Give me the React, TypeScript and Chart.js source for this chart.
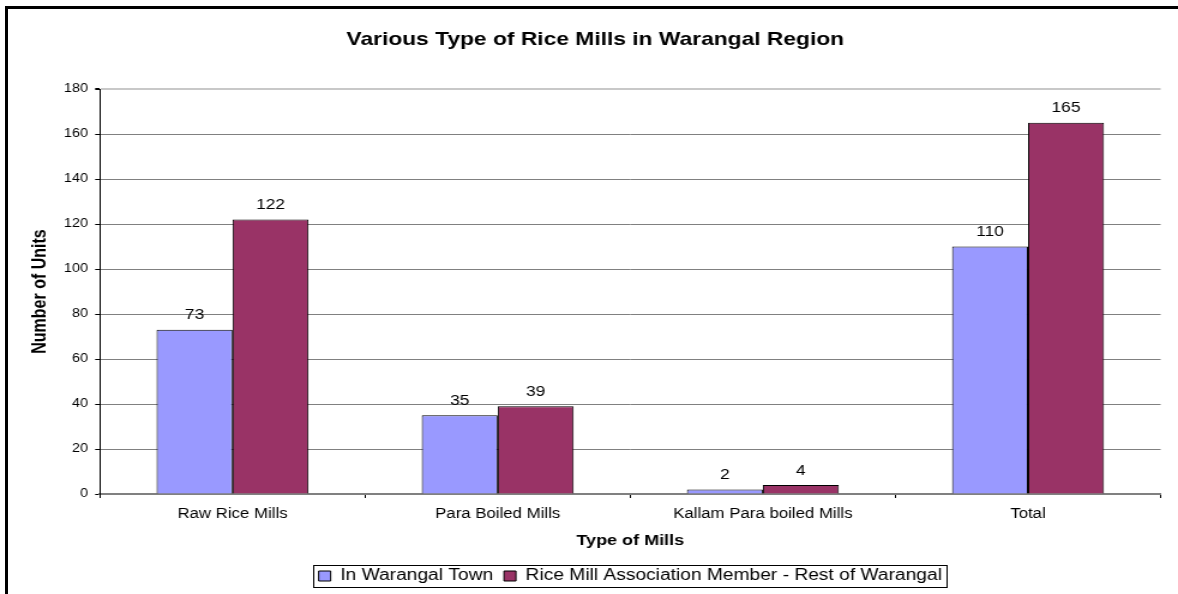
import React, { useEffect, useRef } from 'react';
import { Chart, registerables } from 'chart.js';

Chart.register(...registerables);

// ---- data ----
const categories = ['Raw Rice Mills', 'Para Boiled Mills', 'Kallam Para boiled Mills', 'Total'];
const seriesLabels = ['In Warangal Town', 'Rice Mill Association Member - Rest of Warangal'];
const inWarangalTown = [73, 35, 2, 110];
const restOfWarangal = [122, 39, 4, 165];
const yAxisMin = 0;
const yAxisMax = 180;
const yAxisStep = 20;
const chartTitle = 'Various Type of Rice Mills in Warangal Region';
const xAxisTitle = 'Type of Mills';
const yAxisTitle = 'Number of Units';

// ---- layout / style ----
const PAGE_W = 1178;
const PAGE_H = 594;
const CANVAS_W = 982; // drawn narrower, then stretched horizontally like the reference
const STRETCH = PAGE_W / CANVAS_W;
const FONT = "'Liberation Sans', Arial, Helvetica, sans-serif";
const BLUE = '#9999FF';
const MAROON = '#993366';

const dataLabelPlugin = {
  id: 'dataLabels',
  afterDatasetsDraw(chart: any) {
    const ctx = chart.ctx;
    ctx.save();
    ctx.font = `14.5px ${FONT}`;
    ctx.fillStyle = '#000';
    ctx.textAlign = 'center';
    ctx.textBaseline = 'middle';
    chart.data.datasets.forEach((ds: any, i: number) => {
      const meta = chart.getDatasetMeta(i);
      meta.data.forEach((bar: any, j: number) => {
        ctx.fillText(String(ds.data[j]), bar.x, bar.y - 14.5);
      });
    });
    ctx.restore();
  },
};

const legendPlacePlugin = {
  id: 'legendPlace',
  afterLayout(chart: any) {
    const lg = chart.legend;
    const area = chart.chartArea;
    if (!lg || !area) return;
    const d = (area.left + area.right) / 2 - (lg.left + lg.right) / 2;
    lg.left += d;
    lg.right += d;
  },
  afterDraw(chart: any) {
    const lg = chart.legend;
    const hb = lg && lg.legendHitBoxes;
    if (!hb || !hb.length) return;
    const ctx = chart.ctx;
    const left = Math.min(...hb.map((h: any) => h.left)) - 4.75;
    const right = Math.max(...hb.map((h: any) => h.left + h.width)) + 3.5;
    const cy = hb[0].top + hb[0].height / 2;
    const top = Math.round(cy - 11.2) + 0.5;
    const bottom = Math.round(cy + 11.2) + 0.5;
    ctx.save();
    ctx.strokeStyle = '#000';
    ctx.lineWidth = 1;
    ctx.strokeRect(Math.round(left) + 0.5, top, Math.round(right - left), bottom - top);
    ctx.restore();
  },
};

export default function App() {
  const canvasRef = useRef<HTMLCanvasElement | null>(null);

  useEffect(() => {
    if (!canvasRef.current) return;
    Chart.defaults.font.family = FONT;
    Chart.defaults.color = '#000';
    const chart = new Chart(canvasRef.current, {
      type: 'bar',
      data: {
        labels: categories,
        datasets: [
          {
            label: seriesLabels[0],
            data: inWarangalTown,
            backgroundColor: BLUE,
            borderColor: '#000',
            borderWidth: 1,
            categoryPercentage: 0.573,
            barPercentage: 1.0,
          },
          {
            label: seriesLabels[1],
            data: restOfWarangal,
            backgroundColor: MAROON,
            borderColor: '#000',
            borderWidth: 1,
            categoryPercentage: 0.573,
            barPercentage: 1.0,
          },
        ],
      },
      options: {
        responsive: false,
        maintainAspectRatio: false,
        animation: false,
        devicePixelRatio: 1,
        layout: { padding: { left: 25, right: 14.5, top: 0, bottom: 0 } },
        plugins: {
          title: {
            display: true,
            text: chartTitle,
            color: '#000',
            font: { size: 19, weight: 'bold', family: FONT },
            padding: { top: 28.6, bottom: 37.6 },
          },
          legend: {
            display: true,
            position: 'bottom',
            labels: {
              color: '#000',
              font: { size: 16, family: FONT },
              boxWidth: 10,
              boxHeight: 10,
              padding: 9,
            },
          },
          tooltip: { enabled: false },
        },
        scales: {
          x: {
            grid: {
              display: true,
              drawOnChartArea: false,
              drawTicks: true,
              tickLength: 4,
              offset: true,
              color: '#000',
              tickColor: '#000',
            },
            border: { display: true, color: '#808080', width: 2 },
            ticks: {
              color: '#000',
              font: { size: 14, family: FONT },
              padding: 8,
              autoSkip: false,
              maxRotation: 0,
            },
            title: {
              display: true,
              text: xAxisTitle,
              color: '#000',
              font: { size: 15, weight: 'bold', family: FONT },
              padding: { top: 1.2, bottom: 9 },
            },
          },
          y: {
            min: yAxisMin,
            max: yAxisMax,
            ticks: {
              stepSize: yAxisStep,
              color: '#000',
              font: { size: 12, family: FONT },
              padding: 6,
            },
            grid: {
              color: (c: any) => (c.tick && c.tick.value === yAxisMax ? '#c8c8c8' : '#808080'),
              lineWidth: (c: any) => (c.tick && c.tick.value === yAxisMax ? 2 : 1),
              tickColor: '#000',
              tickLength: 4,
              drawTicks: true,
            },
            border: { display: true, color: '#000', width: 1 },
            title: {
              display: true,
              text: yAxisTitle,
              color: '#000',
              font: { size: 16, weight: 'bold', family: FONT, lineHeight: 1.0 },
              padding: { top: 1, bottom: 5.3 },
            },
          },
        },
      },
      plugins: [dataLabelPlugin, legendPlacePlugin],
    } as any);
    return () => chart.destroy();
  }, []);

  return (
    <div
      style={{
        position: 'absolute',
        left: 0,
        top: 0,
        width: PAGE_W,
        height: PAGE_H,
        overflow: 'hidden',
        background: '#fff',
      }}
    >
      <div
        style={{
          position: 'absolute',
          left: 0,
          top: 0,
          width: CANVAS_W,
          height: PAGE_H,
          transform: `scaleX(${STRETCH})`,
          transformOrigin: '0 0',
        }}
      >
        <canvas
          ref={canvasRef}
          width={CANVAS_W}
          height={PAGE_H}
          style={{ width: CANVAS_W, height: PAGE_H, display: 'block' }}
        />
      </div>
      <div
        style={{
          position: 'absolute',
          left: 5,
          top: 6,
          width: PAGE_W - 5,
          height: PAGE_H - 6,
          borderTop: '3px solid #000',
          borderLeft: '3px solid #000',
          boxSizing: 'border-box',
          pointerEvents: 'none',
        }}
      />
    </div>
  );
}
